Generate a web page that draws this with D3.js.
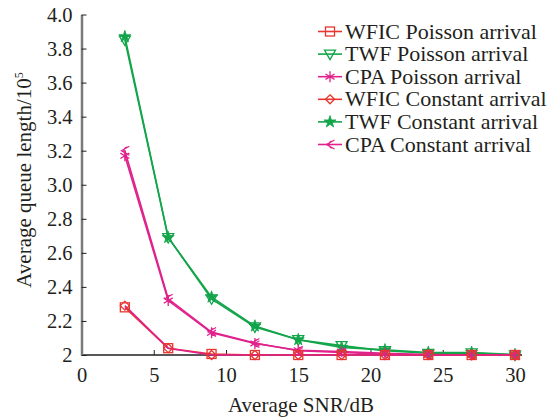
<!DOCTYPE html>
<html>
<head>
<meta charset="utf-8">
<script src="https://cdn.jsdelivr.net/npm/d3@7"></script>
<style>
  html, body { margin: 0; padding: 0; background: #fff; }
  svg { display: block; }
</style>
</head>
<body>
<svg id="chart" width="547" height="419" font-family="Liberation Serif"></svg>
<script>
const snr = [3, 6, 9, 12, 15, 18, 21, 24, 27, 30];
const wficPoisson  = [2.28, 2.04, 2.006, 2.0, 2.0, 2.0, 2.0, 2.0, 2.0, 2.0];
const twfPoisson   = [3.85, 2.69, 2.33, 2.165, 2.09, 2.055, 2.025, 2.01, 2.012, 2.0];
const cpaPoisson   = [3.17, 2.32, 2.13, 2.068, 2.028, 2.02, 2.01, 2.003, 2.0, 2.0];
const wficConstant = [2.29, 2.04, 2.0, 2.0, 2.0, 2.0, 2.0, 2.0, 2.0, 2.0];
const twfConstant  = [3.87, 2.69, 2.34, 2.17, 2.09, 2.045, 2.03, 2.015, 2.015, 2.002];
const cpaConstant  = [3.20, 2.33, 2.135, 2.07, 2.025, 2.015, 2.005, 2.0, 2.0, 2.0];
const xTicks = [0, 5, 10, 15, 20, 25, 30];
const yTicks = [2.0, 2.2, 2.4, 2.6, 2.8, 3.0, 3.2, 3.4, 3.6, 3.8, 4.0];
const seriesNames = ["WFIC Poisson arrival", "TWF Poisson arrival", "CPA Poisson arrival",
                     "WFIC Constant arrival", "TWF Constant arrival", "CPA Constant arrival"];

const FONT = "Liberation Serif";
const INK = "#231f20";
const RED = "#e8352f", GREEN = "#12a54a", MAG = "#e0228c";
const series = [
  {name: seriesNames[0], values: wficPoisson,  color: RED,   line: RED, marker: "square"},
  {name: seriesNames[1], values: twfPoisson,   color: GREEN, line: GREEN, marker: "tri"},
  {name: seriesNames[2], values: cpaPoisson,   color: MAG,   line: MAG, marker: "ast"},
  {name: seriesNames[3], values: wficConstant, color: RED,   line: MAG, marker: "diamond"},
  {name: seriesNames[4], values: twfConstant,  color: GREEN, line: GREEN, marker: "star"},
  {name: seriesNames[5], values: cpaConstant,  color: MAG,   line: MAG, marker: "lt"}
];

const svg = d3.select("#chart");
const x = d3.scaleLinear().domain([0, 30]).range([81.5, 515]);
const y = d3.scaleLinear().domain([2, 4]).range([355, 14.5]);

// axes
const gx = svg.append("g").attr("transform", `translate(0,${y(2)})`)
  .call(d3.axisBottom(x).tickValues(xTicks).tickSizeInner(-5).tickSizeOuter(0).tickPadding(12));
gx.attr("font-family", FONT).attr("font-size", 20.5);
gx.select(".domain").attr("stroke", INK).attr("stroke-width", 1.5)
  .attr("d", `M${x(0)},0H${x(30) + 7}`);
gx.selectAll(".tick line").attr("stroke", INK);
gx.selectAll(".tick text").attr("fill", INK);

const gy = svg.append("g").attr("transform", `translate(${x(0)},0)`)
  .call(d3.axisLeft(y).tickValues(yTicks).tickSizeInner(-5).tickSizeOuter(0).tickPadding(9)
        .tickFormat(d => d === 2 ? "2" : d3.format(".1f")(d)));
gy.attr("font-family", FONT).attr("font-size", 20.5);
gy.select(".domain").attr("stroke", "#7a7a7a").attr("stroke-width", 2.5);
gy.selectAll(".tick line").attr("stroke", INK);
gy.selectAll(".tick text").attr("fill", INK);

// titles
svg.append("text").attr("x", 301).attr("y", 412).attr("text-anchor", "middle")
  .attr("font-size", 21).attr("fill", INK).text("Average SNR/dB");
const yt = svg.append("text").attr("transform", "translate(31,180) rotate(-90)")
  .attr("text-anchor", "middle").attr("font-size", 21).attr("fill", INK);
yt.append("tspan").text("Average queue length/10");
yt.append("tspan").attr("font-size", 12).attr("dy", -8).text("5");

function marker(g, type, color) {
  const s = 4.5;
  if (type === "square") {
    g.append("rect").attr("x", -s).attr("y", -s).attr("width", 2 * s).attr("height", 2 * s)
      .attr("fill", "none").attr("stroke", color).attr("stroke-width", 1.3);
  } else if (type === "tri") {
    g.append("path").attr("d", `M${-s - 1},${-s + 0.5}L${s + 1},${-s + 0.5}L0,${s + 1}Z`)
      .attr("fill", "none").attr("stroke", color).attr("stroke-width", 1.3);
  } else if (type === "ast") {
    g.append("path").attr("d", `M0,${-s - 1}V${s + 1}M${-s},${-s * 0.6}L${s},${s * 0.6}M${-s},${s * 0.6}L${s},${-s * 0.6}`)
      .attr("fill", "none").attr("stroke", color).attr("stroke-width", 1.3);
  } else if (type === "diamond") {
    g.append("path").attr("d", `M0,${-s}L${s},0L0,${s}L${-s},0Z`)
      .attr("fill", "none").attr("stroke", color).attr("stroke-width", 1.3);
  } else if (type === "star") {
    g.append("path").attr("d", d3.symbol(d3.symbolStar, 45)())
      .attr("fill", color).attr("stroke", color).attr("stroke-width", 0.8);
  } else if (type === "lt") {
    g.append("path").attr("d", `M${s},${-s}L${-s + 1},0L${s},${s}M${s - 2},${-s + 1}A3,3 0 1 0 ${s - 2},${s - 1}`)
      .attr("fill", "none").attr("stroke", color).attr("stroke-width", 1.2);
  }
}

const line = d3.line().x((d, i) => x(snr[i])).y(d => y(d));
const drawOrder = [1, 4, 2, 5, 0, 3];
drawOrder.forEach(k => {
  const s = series[k];
  svg.append("path").datum(s.values).attr("d", line)
    .attr("fill", "none").attr("stroke", s.line).attr("stroke-width", 1.6);
});
drawOrder.forEach(k => {
  const s = series[k];
  s.values.forEach((v, i) => {
    const g = svg.append("g").attr("transform", `translate(${x(snr[i])},${y(v)})`);
    marker(g, s.marker, s.color);
  });
});

// legend
const lg = svg.append("g");
series.forEach((s, i) => {
  const yy = 31.5 + i * 22.6;
  lg.append("line").attr("x1", 318).attr("x2", 342).attr("y1", yy).attr("y2", yy)
    .attr("stroke", s.color).attr("stroke-width", 1.6);
  const g = lg.append("g").attr("transform", `translate(330,${yy})`);
  marker(g, s.marker, s.color);
  lg.append("text").attr("x", 345).attr("y", yy + 7).attr("font-size", 22)
    .attr("fill", INK).text(s.name);
});
</script>
</body>
</html>
